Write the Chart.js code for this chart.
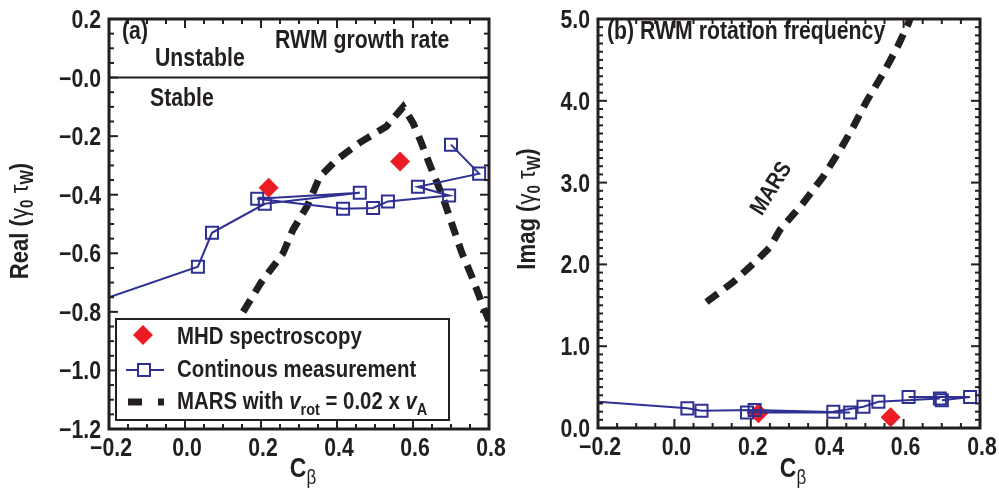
<!DOCTYPE html>
<html>
<head>
<meta charset="utf-8">
<script src="https://cdn.jsdelivr.net/npm/chart.js@4.4.0/dist/chart.umd.min.js"></script>
<style>
body { margin: 0; background: #fff; }
#wrap { position: relative; width: 999px; height: 490px; }
#chartA { position: absolute; left: 0; top: 0; }
#chartB { position: absolute; left: 500px; top: 0; }
</style>
</head>
<body>
<div id="wrap">
  <canvas id="chartA" width="520" height="490"></canvas>
  <canvas id="chartB" width="499" height="490"></canvas>
</div>
<script>
// ---- data ----
// continuous measurement, in the order the line joins the points
const contX    = [-0.2, 0.034, 0.071, 0.21, 0.46, 0.19, 0.416, 0.495, 0.534, 0.695, 0.613, 0.774, 0.70];
const contReal = [-0.75, -0.646, -0.53, -0.431, -0.393, -0.414, -0.448, -0.445, -0.423, -0.403, -0.373, -0.328, -0.229];
const contImag = [0.32, 0.24, 0.21, 0.22, 0.19, 0.19, 0.20, 0.26, 0.32, 0.36, 0.38, 0.38, 0.34];

// MHD spectroscopy
const specX    = [0.22, 0.566];
const specReal = [-0.376, -0.287];
const specImag = [0.18, 0.13];

// MARS, vrot = 0.02 x vA
const marsRealX = [0.153, 0.20, 0.258, 0.284, 0.321, 0.355, 0.40, 0.46, 0.53, 0.574, 0.60, 0.618, 0.645, 0.679, 0.705, 0.729, 0.755, 0.784, 0.80];
const marsReal  = [-0.80, -0.70, -0.60, -0.52, -0.44, -0.338, -0.28, -0.222, -0.167, -0.10, -0.155, -0.21, -0.30, -0.41, -0.51, -0.60, -0.68, -0.78, -0.83];
const marsImagX = [0.084, 0.153, 0.216, 0.25, 0.276, 0.337, 0.389, 0.434, 0.468, 0.505, 0.547, 0.584, 0.613, 0.62];
const marsImag  = [1.54, 1.78, 2.05, 2.21, 2.42, 2.75, 3.07, 3.40, 3.68, 4.01, 4.34, 4.66, 4.95, 5.05];

// tick labels
const cbTicks = [-0.2, 0, 0.2, 0.4, 0.6, 0.8];
const cbTickLabels = ['\u22120.2', '0.0', '0.2', '0.4', '0.6', '0.8'];
const realTicks = [-1.2, -1.0, -0.8, -0.6, -0.4, -0.2, 0, 0.2];
const realTickLabels = ['\u22121.2', '\u22121.0', '\u22120.8', '\u22120.6', '\u22120.4', '\u22120.2', '\u22120.0', '0.2'];
const imagTicks = [0, 1, 2, 3, 4, 5];
const imagTickLabels = ['0.0', '1.0', '2.0', '3.0', '4.0', '5.0'];

// ---- styles ----
const INK = '#231f20';
const BLUE = '#2e3192';
const RED = '#ed1c24';
const FONT = '"Liberation Sans", Arial, sans-serif';
const NARROW = 0.85; // the figure uses a condensed face, squeeze the text
const f = (size, style) => (style || 'bold') + ' ' + size + 'px ' + FONT;

function pts(xs, ys) {
    return xs.map((x, i) => ({ x: x, y: ys[i] }));
}

// axis with a fixed size so the plot box lands where it should; labels are drawn by the plugin
function makeAxis(min, max, fitSize, horiz) {
    return {
        type: 'linear', min: min, max: max,
        grid: { display: false, drawTicks: false },
        border: { display: false },
        ticks: { display: false },
        afterFit: s => { if (horiz) s.height = fitSize; else s.width = fitSize; }
    };
}

// text made of pieces (for subscripts / italics), squeezed horizontally
function drawRich(ctx, parts, x, y, rot, align) {
    ctx.save();
    ctx.translate(x, y);
    ctx.rotate(rot || 0);
    ctx.scale(NARROW, 1);
    ctx.textBaseline = 'alphabetic';
    ctx.textAlign = 'left';
    let total = 0;
    parts.forEach(p => { ctx.font = p.font; p.w = ctx.measureText(p.t).width; total += p.w; });
    let cx = 0;
    if (align === 'center') cx = -total / 2;
    if (align === 'right') cx = -total;
    parts.forEach(p => {
        ctx.font = p.font;
        ctx.fillStyle = p.color || INK;
        ctx.fillText(p.t, cx, p.dy || 0);
        cx += p.w;
    });
    ctx.restore();
}

function minorValues(min, max, step) {
    const out = [];
    for (let k = Math.ceil(min / step - 1e-9); k * step <= max + 1e-9; k++) out.push(k * step);
    return out;
}

// frame, inward ticks, tick labels, texts, legend
function makePanelPlugin(cfg) {
    return {
        id: 'panel',
        afterDatasetsDraw(chart) {
            const ctx = chart.ctx, a = chart.chartArea;
            const xs = chart.scales.x, ys = chart.scales.y;
            ctx.save();
            ctx.strokeStyle = INK;
            ctx.lineCap = 'butt';
            const seg = (x1, y1, x2, y2) => { ctx.beginPath(); ctx.moveTo(x1, y1); ctx.lineTo(x2, y2); ctx.stroke(); };

            if (cfg.zeroLine) {
                ctx.lineWidth = 2;
                const p = ys.getPixelForValue(0);
                seg(a.left, p, a.right, p);
            }

            ctx.lineWidth = 2;
            minorValues(xs.min, xs.max, cfg.xMinor).forEach(v => {
                const major = cfg.xMajor.some(t => Math.abs(t - v) < 1e-6);
                const len = major ? 9 : 5;
                const p = xs.getPixelForValue(v);
                seg(p, a.bottom, p, a.bottom - len);
                seg(p, a.top, p, a.top + len);
            });
            minorValues(ys.min, ys.max, cfg.yMinor).forEach(v => {
                const major = cfg.yMajor.some(t => Math.abs(t - v) < 1e-6);
                const len = major ? 9 : 5;
                const p = ys.getPixelForValue(v);
                seg(a.left, p, a.left + len, p);
                seg(a.right, p, a.right - len, p);
            });

            ctx.lineWidth = 3;
            ctx.strokeRect(a.left, a.top, a.right - a.left, a.bottom - a.top);

            // tick labels
            cfg.xMajor.forEach((v, i) => {
                drawRich(ctx, [{ t: cfg.xLabels[i], font: f(25) }], xs.getPixelForValue(v) + 2, a.bottom + 27, 0, 'center');
            });
            cfg.yMajor.forEach((v, i) => {
                drawRich(ctx, [{ t: cfg.yLabels[i], font: f(25) }], a.left - 8, ys.getPixelForValue(v) + 9, 0, 'right');
            });

            cfg.notes.forEach(n => drawRich(ctx, n.parts, n.x, n.y, n.rot, n.align));
            if (cfg.legend) cfg.legend(ctx);
            ctx.restore();
        }
    };
}

const yTitle = (word) => [
    { t: word + ' (', font: f(26) },
    { t: '\u03b3', font: f(26, 'normal') },
    { t: '0', font: f(18), dy: 5 },
    { t: ' \u03c4', font: f(26, 'normal') },
    { t: 'W', font: f(18), dy: 5 },
    { t: ')', font: f(26) }
];
const xTitle = [
    { t: 'C', font: f(27) },
    { t: '\u03b2', font: f(20, 'normal'), dy: 7 }
];

function legendA(ctx) {
    ctx.fillStyle = '#fff';
    ctx.fillRect(116, 319, 333, 101);
    ctx.lineWidth = 2;
    ctx.strokeStyle = INK;
    ctx.strokeRect(116, 319, 333, 101);

    // MHD spectroscopy
    ctx.fillStyle = RED;
    ctx.beginPath();
    ctx.moveTo(143, 325); ctx.lineTo(153, 335); ctx.lineTo(143, 345); ctx.lineTo(133, 335);
    ctx.closePath(); ctx.fill();
    drawRich(ctx, [{ t: 'MHD spectroscopy', font: f(24) }], 177, 344);

    // continuous measurement
    ctx.strokeStyle = BLUE;
    ctx.lineWidth = 2;
    ctx.beginPath(); ctx.moveTo(126, 370); ctx.lineTo(164, 370); ctx.stroke();
    ctx.fillStyle = '#fff';
    ctx.fillRect(138, 364, 12, 12);
    ctx.strokeRect(138, 364, 12, 12);
    drawRich(ctx, [{ t: 'Continous measurement', font: f(24) }], 177, 377);

    // MARS
    ctx.strokeStyle = INK;
    ctx.lineWidth = 7;
    ctx.setLineDash([14, 16]);
    ctx.beginPath(); ctx.moveTo(128, 402); ctx.lineTo(164, 402); ctx.stroke();
    ctx.setLineDash([]);
    drawRich(ctx, [
        { t: 'MARS with ', font: f(24) },
        { t: 'v', font: f(24, 'italic bold') },
        { t: 'rot', font: f(17), dy: 6 },
        { t: ' = 0.02 x ', font: f(24) },
        { t: 'v', font: f(24, 'italic bold') },
        { t: 'A', font: f(17), dy: 6 }
    ], 177, 409);
}

function baseDatasets(contY, marsX, marsY, specY) {
    return [
        {
            label: 'Continous measurement',
            data: pts(contX, contY),
            showLine: true,
            borderColor: BLUE,
            borderWidth: 2,
            pointStyle: 'rect',
            pointRadius: contX.map((x, i) => i === 0 ? 0 : 8.5),
            pointBorderWidth: 2,
            pointBorderColor: BLUE,
            pointBackgroundColor: 'rgba(0,0,0,0)',
            order: 1
        },
        {
            label: 'MHD spectroscopy',
            data: pts(specX, specY),
            showLine: false,
            pointStyle: 'rectRot',
            pointRadius: 10,
            pointBorderWidth: 0,
            pointBackgroundColor: RED,
            pointBorderColor: RED,
            order: 2
        },
        {
            label: 'MARS',
            data: pts(marsX, marsY),
            showLine: true,
            borderColor: INK,
            borderWidth: 7,
            borderDash: [14, 9],
            borderCapStyle: 'butt',
            pointRadius: 0,
            clip: 0,
            order: 3
        }
    ];
}

function commonOptions(yAxis, xAxis, pad) {
    return {
        responsive: false,
        animation: false,
        layout: { padding: pad },
        plugins: { legend: { display: false }, tooltip: { enabled: false } },
        scales: { x: xAxis, y: yAxis }
    };
}

// (a) growth rate
new Chart(document.getElementById('chartA'), {
    type: 'scatter',
    data: { datasets: baseDatasets(contReal, marsRealX, marsReal, specReal) },
    options: commonOptions(
        makeAxis(-1.2, 0.2, 109, false),
        makeAxis(-0.2, 0.8, 61, true),
        { top: 19, right: 31, left: 0, bottom: 0 }
    ),
    plugins: [makePanelPlugin({
        zeroLine: true,
        xMajor: cbTicks, xLabels: cbTickLabels, xMinor: 0.05,
        yMajor: realTicks, yLabels: realTickLabels, yMinor: 0.05,
        notes: [
            { parts: [{ t: '(a)', font: f(25) }], x: 122, y: 39 },
            { parts: [{ t: 'RWM growth rate', font: f(25) }], x: 275, y: 48 },
            { parts: [{ t: 'Unstable', font: f(25) }], x: 155, y: 66 },
            { parts: [{ t: 'Stable', font: f(25) }], x: 150, y: 106 },
            { parts: yTitle('Real'), x: 28, y: 221, rot: -Math.PI / 2, align: 'center' },
            { parts: xTitle, x: 303, y: 477, align: 'center' }
        ],
        legend: legendA
    })]
});

// (b) rotation frequency
new Chart(document.getElementById('chartB'), {
    type: 'scatter',
    data: { datasets: baseDatasets(contImag, marsImagX, marsImag, specImag) },
    options: commonOptions(
        makeAxis(0, 5, 98, false),
        makeAxis(-0.2, 0.8, 62, true),
        { top: 19, right: 19, left: 0, bottom: 0 }
    ),
    plugins: [makePanelPlugin({
        zeroLine: false,
        xMajor: cbTicks, xLabels: cbTickLabels, xMinor: 0.05,
        yMajor: imagTicks, yLabels: imagTickLabels, yMinor: 0.1,
        notes: [
            { parts: [{ t: '(b) RWM rotation frequency', font: f(25) }], x: 107, y: 39 },
            { parts: [{ t: 'MARS', font: f(23) }], x: 277, y: 192, rot: -58 * Math.PI / 180, align: 'center' },
            { parts: yTitle('Imag'), x: 35, y: 209, rot: -Math.PI / 2, align: 'center' },
            { parts: xTitle, x: 293, y: 477, align: 'center' }
        ]
    })]
});
</script>
</body>
</html>
